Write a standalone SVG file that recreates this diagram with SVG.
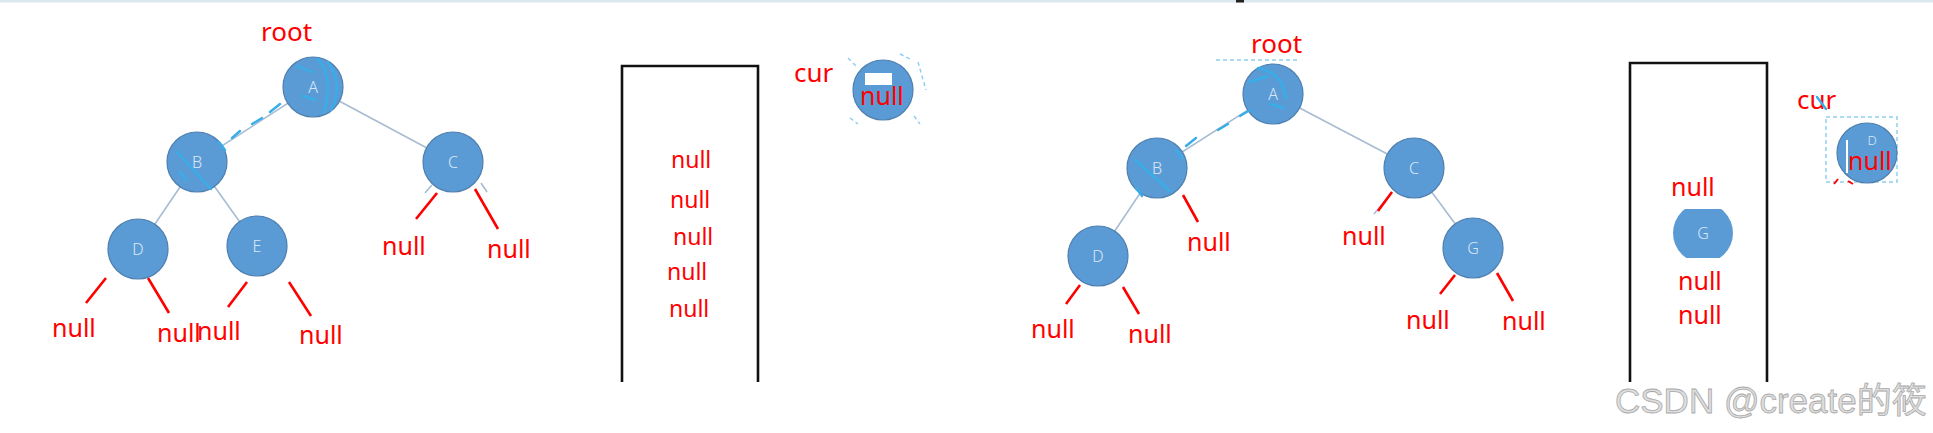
<svg xmlns="http://www.w3.org/2000/svg" width="1933" height="433" viewBox="0 0 1933 433">
<defs>
<style>
.bg{fill:#ffffff}
.node{fill:#5b9bd5;stroke:#4f7fae;stroke-width:1.2}
.lbl{font-family:"Noto Sans","Open Sans",sans-serif;font-size:16px;fill:#d8e7f6;text-anchor:middle;font-weight:300}
.edge{stroke:#a7bcd2;stroke-width:1.6;fill:none}
.nl{stroke:#ff0000;stroke-width:2.6;fill:none}
.red{font-family:"Noto Sans","Open Sans",sans-serif;font-size:25px;fill:#ff0000}
.big{font-size:26px}
.sm{font-size:23px}
.stack{fill:none;stroke:#111111;stroke-width:2.6}
.sel{stroke:#38aee8;stroke-width:2.4;fill:none;stroke-linecap:round}
.dash{stroke:#8fd0f0;stroke-width:1.5;fill:none;stroke-dasharray:4 3}
.wm{font-family:"Liberation Sans","Noto Sans CJK SC",sans-serif;font-size:35px;fill:#dedede;stroke:#a9a9a9;stroke-width:0.8}
</style>
<clipPath id="gclip"><rect x="1660" y="209" width="90" height="49"/></clipPath>
</defs>
<rect class="bg" x="0" y="0" width="1933" height="433"/>
<rect x="0" y="0" width="1933" height="2.5" fill="#dbe7ee"/>
<rect x="1236" y="0" width="8" height="2.5" fill="#222222"/>

<g id="connectors">
  <!-- tree 1 -->
  <line class="edge" x1="313" y1="87" x2="197" y2="162"/>
  <line class="edge" x1="313" y1="87" x2="453" y2="162"/>
  <line class="edge" x1="197" y1="162" x2="138" y2="249"/>
  <line class="edge" x1="197" y1="162" x2="257" y2="246"/>
  <line class="edge" x1="432" y1="185" x2="425" y2="193"/>
  <line class="edge" x1="481" y1="183" x2="487" y2="192"/>
  <line class="nl" x1="106" y1="278" x2="86" y2="303"/>
  <line class="nl" x1="148" y1="278" x2="169" y2="313"/>
  <line class="nl" x1="247" y1="282" x2="228" y2="307"/>
  <line class="nl" x1="289" y1="282" x2="311" y2="316"/>
  <line class="nl" x1="437" y1="193" x2="416" y2="219"/>
  <line class="nl" x1="475" y1="189" x2="498" y2="229"/>
  <!-- tree 2 -->
  <line class="edge" x1="1273" y1="94" x2="1157" y2="168"/>
  <line class="edge" x1="1273" y1="94" x2="1414" y2="168"/>
  <line class="edge" x1="1157" y1="168" x2="1098" y2="256"/>
  <line class="edge" x1="1414" y1="168" x2="1473" y2="248"/>
  <line class="edge" x1="1392" y1="192" x2="1374" y2="214"/>
  <line class="nl" x1="1183" y1="195" x2="1198" y2="222"/>
  <line class="nl" x1="1080" y1="285" x2="1066" y2="304"/>
  <line class="nl" x1="1123" y1="287" x2="1139" y2="314"/>
  <line class="nl" x1="1392" y1="192" x2="1378" y2="211"/>
  <line class="nl" x1="1455" y1="275" x2="1440" y2="294"/>
  <line class="nl" x1="1497" y1="273" x2="1513" y2="301"/>
</g>

<!-- tree 1 nodes -->
<g id="t1-root"><text class="red big" x="261" y="41">root</text></g>
<g id="t1-A">
  <circle class="node" cx="313" cy="87" r="30"/>
  <text class="lbl" x="313" y="93">A</text>
  <path class="sel" d="M318 59 Q334 78 324 112 M328 62 Q344 86 331 110 M297 66 L312 72 M303 96 L316 100"/>
  <path class="sel" d="M280 104 L270 112 M262 118 L252 124 M240 131 L232 138"/>
</g>
<g id="t1-B">
  <circle class="node" cx="197" cy="162" r="30"/>
  <text class="lbl" x="197" y="168">B</text>
  <path class="sel" d="M177 152 L211 189 M180 172 L186 180 M219 142 L225 150"/>
</g>
<g id="t1-C"><circle class="node" cx="453" cy="162" r="30"/><text class="lbl" x="453" y="168">C</text></g>
<g id="t1-D"><circle class="node" cx="138" cy="249" r="30"/><text class="lbl" x="138" y="255">D</text></g>
<g id="t1-E"><circle class="node" cx="257" cy="246" r="30"/><text class="lbl" x="257" y="252">E</text></g>
<g id="t1-nulls">
  <text class="red" x="52" y="337">null</text>
  <text class="red" x="157" y="342">null</text>
  <text class="red" x="197" y="340">null</text>
  <text class="red" x="299" y="344">null</text>
  <text class="red" x="382" y="255">null</text>
  <text class="red" x="487" y="258">null</text>
</g>

<!-- stack 1 -->
<g id="stack1">
  <path class="stack" d="M622 382 V66 H758 V382"/>
  <text class="red sm" x="671" y="168">null</text>
  <text class="red sm" x="670" y="208">null</text>
  <text class="red sm" x="673" y="245">null</text>
  <text class="red sm" x="667" y="280">null</text>
  <text class="red sm" x="669" y="317">null</text>
</g>
<g id="cur1">
  <text class="red big" x="794" y="82">cur</text>
  <path class="dash" d="M848 58 L856 66 M900 54 L912 60 M918 62 L926 90 M914 116 L920 124 M850 118 L858 124"/>
  <circle class="node" cx="883" cy="90" r="30"/>
  <rect x="865" y="73" width="27" height="12" fill="#ffffff"/>
  <text class="red" x="860" y="105">null</text>
</g>

<!-- tree 2 nodes -->
<g id="t2-root"><text class="red big" x="1251" y="53">root</text></g>
<g id="t2-A">
  <circle class="node" cx="1273" cy="94" r="30"/>
  <text class="lbl" x="1273" y="100">A</text>
  <path class="sel" d="M1250 82 L1268 76 M1258 68 Q1282 72 1286 98 M1270 104 L1284 108"/>
  <path class="dash" d="M1216 60 L1300 60"/>
  <path class="sel" d="M1250 110 L1240 116 M1228 124 L1218 130 M1196 138 L1186 146"/>
</g>
<g id="t2-B">
  <circle class="node" cx="1157" cy="168" r="30"/>
  <text class="lbl" x="1157" y="174">B</text>
  <path class="sel" d="M1135 160 L1170 191 M1136 188 L1142 196 M1176 150 L1182 158"/>
</g>
<g id="t2-C"><circle class="node" cx="1414" cy="168" r="30"/><text class="lbl" x="1414" y="174">C</text></g>
<g id="t2-D"><circle class="node" cx="1098" cy="256" r="30"/><text class="lbl" x="1098" y="262">D</text></g>
<g id="t2-G"><circle class="node" cx="1473" cy="248" r="30"/><text class="lbl" x="1473" y="254">G</text></g>
<g id="t2-nulls">
  <text class="red" x="1187" y="251">null</text>
  <text class="red" x="1031" y="338">null</text>
  <text class="red" x="1128" y="343">null</text>
  <text class="red" x="1342" y="245">null</text>
  <text class="red" x="1406" y="329">null</text>
  <text class="red" x="1502" y="330">null</text>
</g>

<!-- stack 2 -->
<g id="stack2">
  <path class="stack" d="M1630 382 V63 H1767 V382"/>
  <text class="red" x="1671" y="196">null</text>
  <g clip-path="url(#gclip)">
    <circle cx="1703" cy="233" r="30" fill="#5b9bd5"/>
  </g>
  <text class="lbl" x="1703" y="239">G</text>
  <text class="red" x="1678" y="290">null</text>
  <text class="red" x="1678" y="324">null</text>
</g>
<g id="cur2">
  <text class="red big" x="1797" y="109">cur</text>
  <line class="sel" x1="1817" y1="97" x2="1826" y2="109"/>
  <rect class="dash" x="1826" y="117" width="71" height="65"/>
  <circle class="node" cx="1867" cy="153" r="30"/>
  <text class="lbl" x="1872" y="145" style="font-size:13px">D</text>
  <line x1="1847" y1="140" x2="1847" y2="173" stroke="#ffffff" stroke-width="2"/>
  <text class="red" x="1848" y="170">null</text>
  <path d="M1834 184 L1838 179 M1848 181 L1853 184" stroke="#ff0000" stroke-width="2"/>
</g>

<text class="wm" x="1615" y="413">CSDN @create的筱</text>
</svg>
